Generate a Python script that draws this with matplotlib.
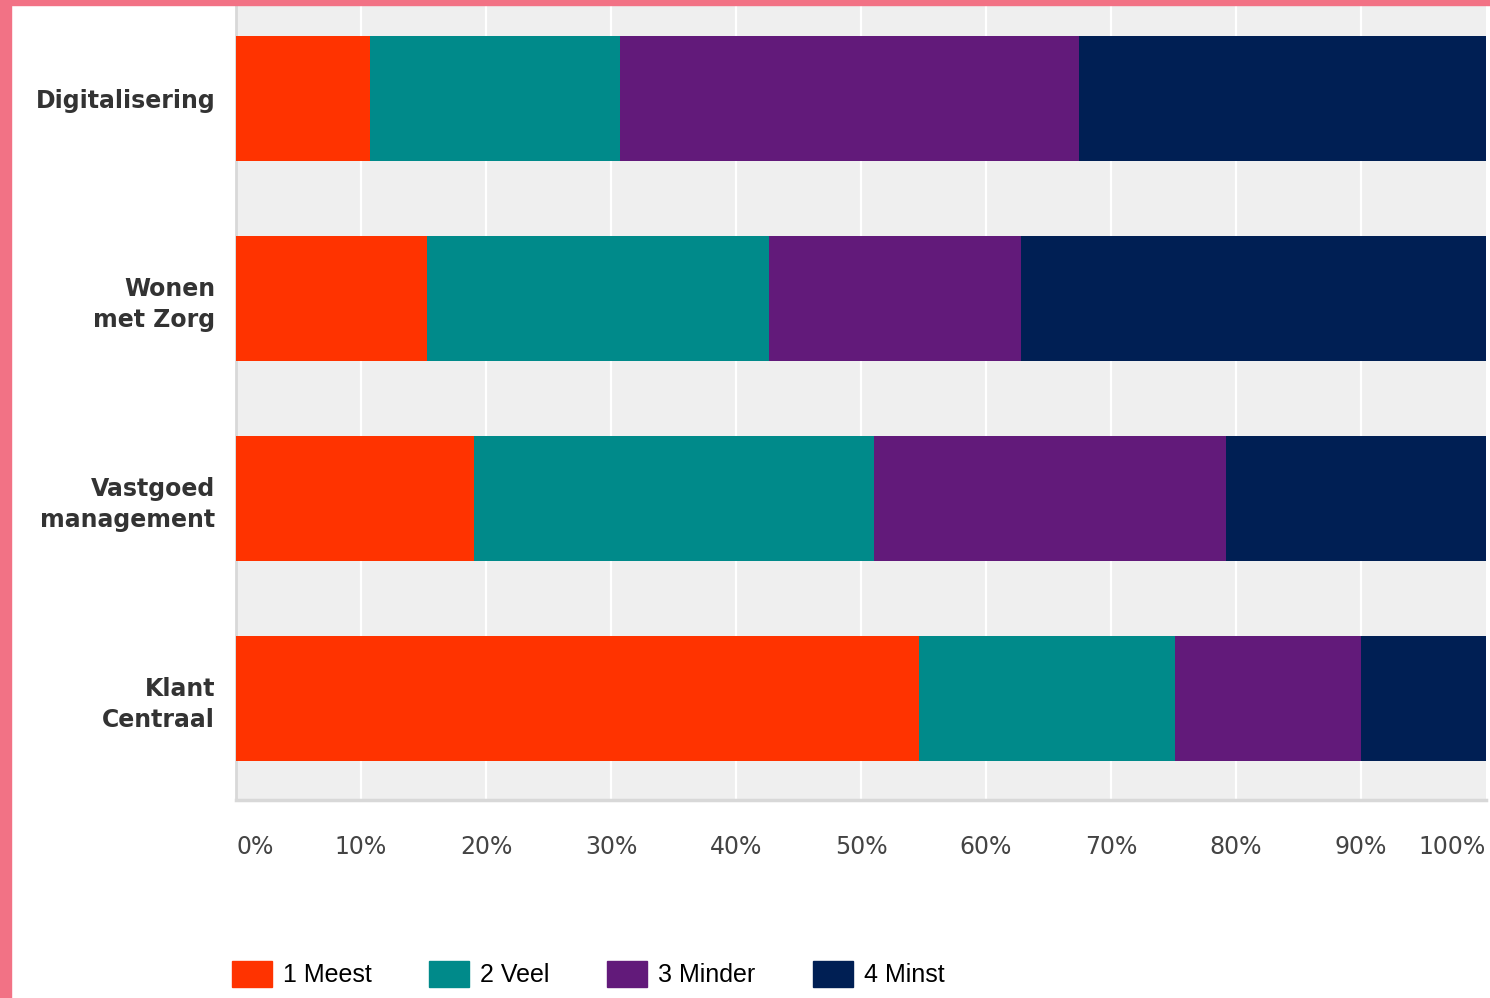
import numpy as np
import matplotlib.pyplot as plt
from matplotlib.patches import Patch, Rectangle

# data (percent per category)
categories = ['Digitalisering', 'Wonen\nmet Zorg', 'Vastgoed\nmanagement', 'Klant\nCentraal']
series_names = ['1 Meest', '2 Veel', '3 Minder', '4 Minst']
meest = [10.7, 15.3, 19.0, 54.6]
veel = [20.0, 27.3, 32.0, 20.5]
minder = [36.7, 20.2, 28.2, 14.9]
minst = [32.6, 37.2, 20.8, 10.0]
xticks = [0, 10, 20, 30, 40, 50, 60, 70, 80, 90, 100]

colors = ['#ff3300', '#008a8a', '#621a7a', '#001f54']

plt.rcParams['font.family'] = ['DejaVu Sans']

W, H = 1490, 998
fig = plt.figure(figsize=(W/100, H/100), dpi=100)
ax = fig.add_axes([236/W, 1-800/H, 1250/W, 795/H])
ax.set_facecolor('#efefef')

y = np.arange(len(categories))
left = np.zeros(len(categories))
for vals, c in zip([meest, veel, minder, minst], colors):
    ax.barh(y, vals, left=left, height=0.625, color=c, zorder=3)
    left += np.array(vals)

ax.set_xlim(0, 100)
ax.set_ylim(3.51, -0.465)
ax.set_xticks(xticks)
for xv in xticks[1:-1]:
    ax.axvline(xv, color='white', lw=1.6, zorder=1)

ax.set_yticks(y)
ax.set_yticklabels(categories, fontsize=17, fontweight='bold', color='#333333',
                   linespacing=1.4)
ax.tick_params(axis='y', length=0, pad=15)
ax.tick_params(axis='x', length=0, pad=25, labelsize=17, labelcolor='#444444')
labels = ax.set_xticklabels(['%d%%' % v for v in xticks])
labels[0].set_ha('left')
labels[-1].set_ha('right')

for s in ['top', 'right']:
    ax.spines[s].set_visible(False)
ax.spines['left'].set_color('#d8d8d8')
ax.spines['left'].set_linewidth(2)
ax.spines['bottom'].set_color('#d8d8d8')
ax.spines['bottom'].set_linewidth(2.5)

# legend
handles = [Patch(facecolor=c, edgecolor=c) for c in colors]
fig.legend(handles, series_names, loc='center left',
           bbox_to_anchor=(222/W, 1-974/H), ncol=4, frameon=False,
           prop={'family': 'Liberation Sans', 'size': 18},
           handlelength=1.6, handleheight=1.2,
           handletextpad=0.44, columnspacing=2.3, borderaxespad=0)

# pink frame at left and top
pink = '#f27285'
fig.patches.append(Rectangle((0, 0), 11/W, 1, transform=fig.transFigure,
                             color=pink, zorder=0))
fig.patches.append(Rectangle((0, 1-5/H), 1, 5/H, transform=fig.transFigure,
                             color=pink, zorder=0))

fig.savefig('out.png', dpi=100)
